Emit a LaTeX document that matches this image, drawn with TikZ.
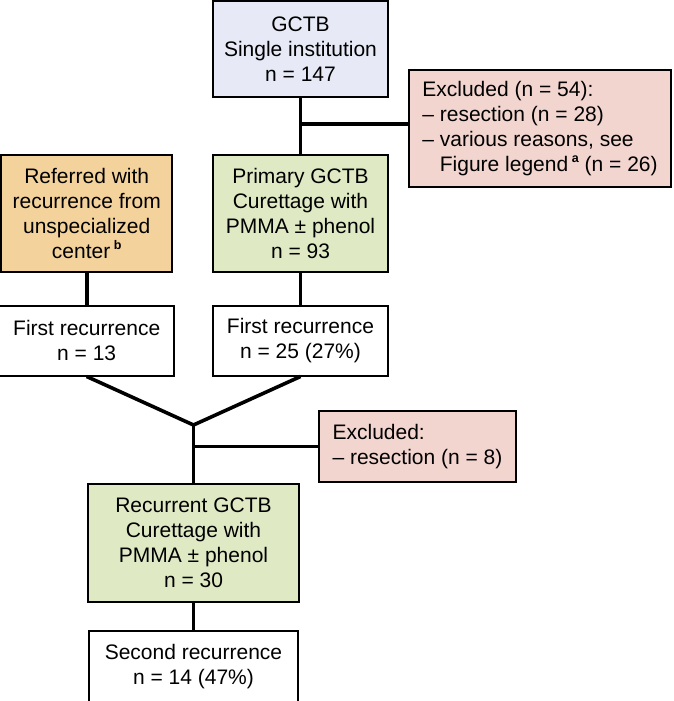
\documentclass[tikz,border=0pt]{standalone}
\usepackage{fontspec}
\setmainfont{Liberation Sans}
\usetikzlibrary{positioning}

\definecolor{gctbblue}{HTML}{E7EAF6}
\definecolor{curegreen}{HTML}{DFEAC4}
\definecolor{referorange}{HTML}{F4D29C}
\definecolor{exclpink}{HTML}{F3D5CF}
\newcommand{\supmark}[1]{\,\raisebox{0.42em}{\fontsize{12.5}{12.5}\selectfont\textbf{#1}}}

\begin{document}
\begin{tikzpicture}[x=1pt, y=1pt,
box/.style={rectangle, draw=black, line width=1.8pt, inner xsep=6pt, inner ysep=4pt, align=center, font=\fontsize{21}{25}\selectfont},
start/.style={box, fill=gctbblue, minimum width=175pt, minimum height=96pt},
cure/.style={box, fill=curegreen, minimum height=117pt},
referred/.style={box, fill=referorange, minimum width=171pt, minimum height=117pt},
recur/.style={box, fill=white, minimum height=70pt},
excluded/.style={box, fill=exclpink, align=left, inner xsep=4pt},
link/.style={line width=3.6pt},
]
\useasboundingbox (0,0) rectangle (673,-701);
%Nodes
\node[start]      (single)   at (300.5,-49)             {GCTB\\Single institution\\n = 147};
\node[cure, minimum width=175pt] (primary)  [below=56pt of single]   {Primary GCTB\\Curettage with\\PMMA ± phenol\\n = 93};
\node[referred]   (referral) [left=39pt of primary]   {Referred with\\recurrence from\\unspecialized\\center\supmark{b}};
\node[recur, minimum width=175pt] (first1) [below=32pt of referral] {First recurrence\\n = 13};
\node[recur, minimum width=175pt] (first2) [below=32pt of primary]  {First recurrence\\n = 25 (27\%)};
\node[excluded, minimum width=262pt, minimum height=117pt] (excl1) at (540,-128.5)
  {Excluded (n = 54):\\– resection (n = 28)\\– various reasons, see\\\phantom{– }Figure legend\supmark{a} (n = 26)};
\node[excluded, minimum width=197pt, minimum height=71pt] (excl2) at (417.5,-446.5)
  {Excluded:\\– resection (n = 8)};
\node[cure, minimum width=211pt, minimum height=118pt] (recurrent) at (193.5,-543) {Recurrent GCTB\\Curettage with\\PMMA ± phenol\\n = 30};
\node[recur, minimum width=209pt, minimum height=71pt] (second) [below=27pt of recurrent] {Second recurrence\\n = 14 (47\%)};

\coordinate (split1) at (300.5,-124);
\coordinate (junc) at (193.5,-425);

%Lines
\draw[link] (single.south) -- (primary.north);
\draw[link] (split1) -- (split1 -| excl1.west);
\draw[link] (referral.south) -- (first1.north);
\draw[link] (primary.south) -- (first2.north);
\draw[link] (first1.south) -- (junc) -- (first2.south);
\draw[link] (junc) -- (recurrent.north);
\draw[link] (excl2.west -| junc) -- (excl2.west);
\draw[link] (recurrent.south) -- (second.north);
\end{tikzpicture}
\end{document}
